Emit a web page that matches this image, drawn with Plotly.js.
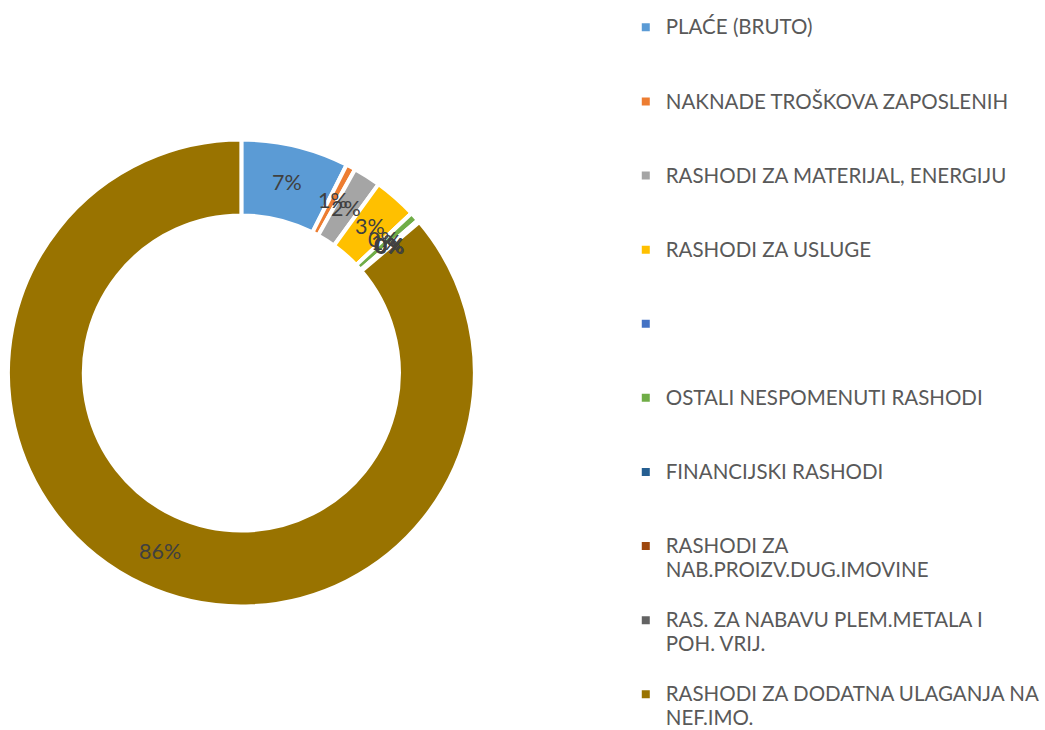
<!DOCTYPE html>
<html><head><meta charset="utf-8">
<script src="https://cdn.plot.ly/plotly-3.0.1.min.js"></script>
<style>html,body{margin:0;padding:0;background:#fff;overflow:hidden}</style>
</head><body><div id="chart" style="width:1045px;height:737px"></div>
<script>
const categories = [
  "PLAĆE (BRUTO)",
  "NAKNADE TROŠKOVA ZAPOSLENIH",
  "RASHODI ZA MATERIJAL, ENERGIJU",
  "RASHODI ZA USLUGE",
  "\u00a0",
  "OSTALI NESPOMENUTI RASHODI",
  "FINANCIJSKI RASHODI",
  "RASHODI ZA<br>NAB.PROIZV.DUG.IMOVINE",
  "RAS. ZA NABAVU PLEM.METALA I<br>POH. VRIJ.",
  "RASHODI ZA DODATNA ULAGANJA NA<br>NEF.IMO."
];
const values = [7.45, 0.65, 1.9, 3.0, 0, 0.65, 0.05, 0.05, 0.05, 86.2];
const colors = ["#5B9BD5", "#ED7D31", "#A5A5A5", "#FFC000", "#4472C4", "#70AD47", "#255E91", "#9E480E", "#636363", "#997300"];

// legend labels padded with blank lines (except the last) to reproduce the wide vertical spacing
const legendLabels = categories.map((c, idx) => {
  const parts = c.split('<br>');
  const lines = parts.map(p => '<span style="font-size:20.5px">' + p + '</span>');
  if (idx < categories.length - 1) {
    while (lines.length < 3) lines.push(' ');
  }
  return lines.join('<br>');
});

// the chart is drawn slightly taller than the 730px window; the legend bottom padding overflows
const W = 1045, H = 737;
const cxPx = 243, cyPx = 373, rOut = 235, rMid = 196;
const domX = [(cxPx - rOut) / W, (cxPx + rOut) / W];
const domY = [1 - (cyPx + rOut) / H, 1 - (cyPx - rOut) / H];

const total = values.reduce((a, b) => a + b, 0);
const annotations = [];
let cum = 0;
values.forEach((v, i) => {
  const mid = (cum + v / 2) / total * 2 * Math.PI;
  cum += v;
  annotations.push({
    xref: 'paper', yref: 'paper',
    x: (cxPx + rMid * Math.sin(mid)) / W,
    y: 1 - (cyPx - rMid * Math.cos(mid)) / H,
    text: Math.round(v / total * 100) + '%',
    showarrow: false,
    font: {family: 'Lato, "Liberation Sans", sans-serif', size: 21.5, color: '#404040'},
    xanchor: 'center', yanchor: 'middle'
  });
});

const trace = {
  type: 'pie',
  labels: legendLabels,
  values: values,
  sort: false,
  direction: 'clockwise',
  rotation: 0,
  hole: 0.675,
  textinfo: 'none',
  marker: {colors: colors, line: {color: '#ffffff', width: 4}},
  domain: {x: domX, y: domY},
  showlegend: true
};

const layout = {
  width: W, height: H,
  margin: {l: 0, r: 0, t: 0, b: 0},
  paper_bgcolor: '#ffffff',
  plot_bgcolor: '#ffffff',
  showlegend: true,
  legend: {
    x: 630 / W, y: 1 - 15 / H, xanchor: 'left', yanchor: 'top',
    valign: 'top',
    font: {family: 'Lato, "Liberation Sans", sans-serif', size: 18.23, color: '#595959'},
    bgcolor: 'rgba(0,0,0,0)',
    itemclick: false, itemdoubleclick: false
  },
  annotations: annotations
};

Plotly.newPlot('chart', [trace], layout, {displayModeBar: false, staticPlot: true});
</script>
</body></html>
